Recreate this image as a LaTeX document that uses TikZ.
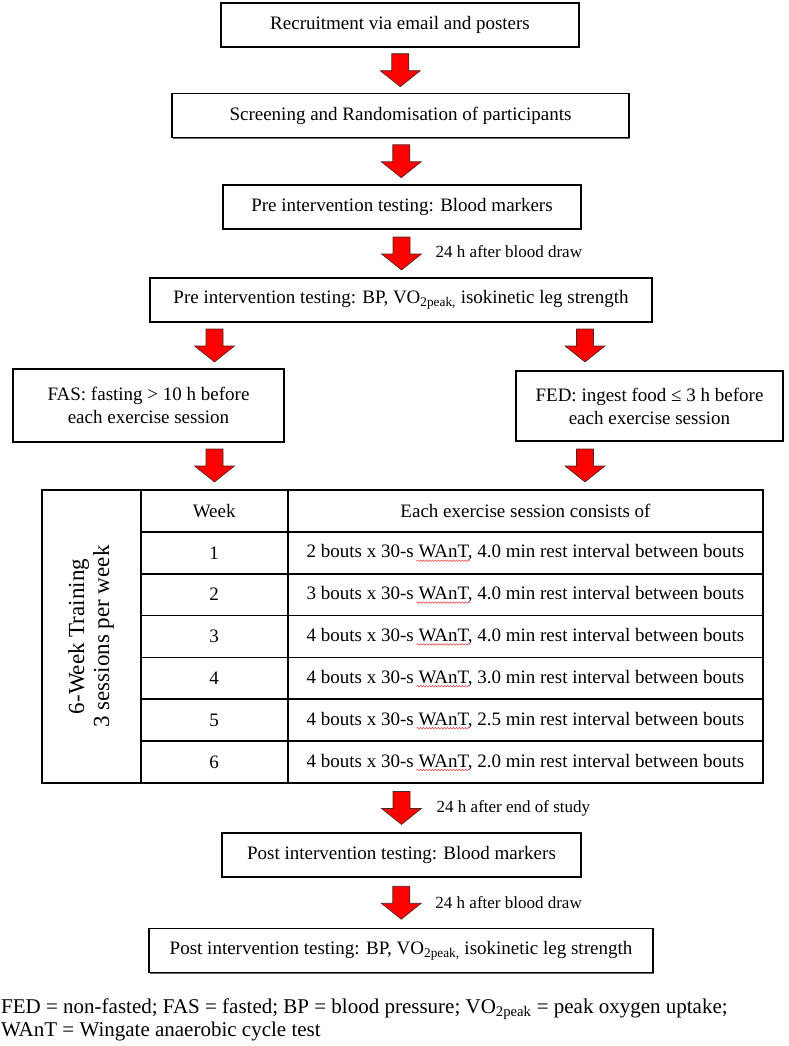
\documentclass[tikz,border=0pt]{standalone}
\usepackage{fontspec}
\setmainfont{Liberation Serif}
\usepackage{tikz}
\usetikzlibrary{calc,shadows,decorations.pathmorphing}
\definecolor{arrowred}{RGB}{255,0,0}
\definecolor{rim}{RGB}{70,40,40}
\definecolor{spellred}{RGB}{230,60,60}
\tikzset{
  stage/.style={draw=black,line width=1.8pt,fill=white,inner sep=0pt,
    minimum height=44pt,align=center,font=\fontsize{19}{23}\selectfont,
    drop shadow={shadow xshift=1.3pt,shadow yshift=-1.3pt,fill=black!60,opacity=1}},
  cell/.style={draw=black,line width=1.8pt,inner sep=0pt,minimum height=41.85pt,
    font=\fontsize{19}{23}\selectfont},
  gapnote/.style={font=\fontsize{17}{20}\selectfont,anchor=west,inner sep=0pt},
  squiggle/.style={spellred,line width=0.5pt,decorate,
    decoration={snake,amplitude=0.8pt,segment length=3pt}},
  redarrow/.pic={\draw[fill=arrowred,draw=rim,line width=0.6pt,line join=miter]
    (-8.5,-16.5) -- (8.5,-16.5) -- (8.5,0.5) -- (20,0.5) -- (0,16.5)
    -- (-20,0.5) -- (-8.5,0.5) -- cycle;}
}

\begin{document}
\begin{tikzpicture}[x=1pt,y=-1pt]
  \useasboundingbox (0,0) rectangle (789,1046);
  % top chain
  \node[stage,minimum width=358pt] (recruit) at (400,25) {Recruitment via email and posters};
  \node[stage,minimum width=457pt] (screen) at (400.5,115.5) {Screening and Randomisation of participants};
  \node[stage,minimum width=358pt] (preblood) at (402,207) {Pre intervention testing: Blood markers};
  \node[stage,minimum width=502pt] (pretest) at (401,300)
    {Pre intervention testing: BP, VO\textsubscript{2peak,} isokinetic leg strength};
  \pic at ($(recruit.south)!0.5!(screen.north)$) {redarrow};
  \pic at ($(screen.south)!0.5!(preblood.north)$) {redarrow};
  \coordinate (gapA) at ($(preblood.south)!0.5!(pretest.north)$);
  \pic at (gapA) {redarrow};
  \node[gapnote] (noteA) at ($(gapA)+(34,-1.5)$) {24 h after blood draw};

  % two arms
  \node[stage,minimum width=271pt,minimum height=73pt] (fas) at (148.5,405.5)
    {FAS: fasting > 10 h before\\each exercise session};
  \node[stage,minimum width=267pt,minimum height=70pt] (fed) at (649.5,406)
    {FED: ingest food ≤ 3 h before\\each exercise session};
  \pic at (214.5,345.5) {redarrow};
  \pic at (585,345.5) {redarrow};
  \pic at (214.5,465.5) {redarrow};
  \pic at (585,465.5) {redarrow};

  % training table
  \node[cell,rotate=90,minimum width=293pt,minimum height=99pt,align=center,
    font=\fontsize{23}{25}\selectfont] (span) at (91.2,636.5)
    {6-Week Training\\3 sessions per week};
  \node[cell,minimum width=147pt] (wkhead) at (214.2,510.9) {Week};
  \node[cell,minimum width=475.6pt] (deschead) at (525.5,510.9) {Each exercise session consists of};
  \foreach \wk/\bouts/\rest in {1/2/4.0,2/3/4.0,3/4/4.0,4/4/3.0,5/4/2.5,6/4/2.0} {
    \node[cell,minimum width=147pt] (wk\wk) at (214.2,{490+41.85*(\wk+0.5)}) {\wk};
    \node[cell,minimum width=475.6pt] (desc\wk) at (525.5,{490+41.85*(\wk+0.5)})
      {\bouts\ bouts x 30-s WAnT, \rest\ min rest interval between bouts};
    \draw[squiggle] ($(desc\wk.center)+(-109,8)$) -- ($(desc\wk.center)+(-56,8)$);
  }

  % post testing
  \node[stage,minimum width=359pt] (postblood) at (401.5,855) {Post intervention testing: Blood markers};
  \node[stage,minimum width=504pt] (posttest) at (401,950.5)
    {Post intervention testing: BP, VO\textsubscript{2peak,} isokinetic leg strength};
  \coordinate (gapB) at ($(desc6.south -| postblood.north)!0.5!(postblood.north)$);
  \pic at (gapB) {redarrow};
  \node[gapnote] (noteB) at ($(gapB)+(35,0)$) {24 h after end of study};
  \coordinate (gapC) at ($(postblood.south)!0.5!(posttest.north)$);
  \pic at (gapC) {redarrow};
  \node[gapnote] (noteC) at ($(gapC)+(34,0)$) {24 h after blood draw};

  \node[anchor=west,align=left,inner sep=0pt,font=\fontsize{21}{23}\selectfont] (legend) at (1,1019.5)
    {FED = non-fasted; FAS = fasted; BP = blood pressure; VO\textsubscript{2peak} = peak oxygen uptake;\\
     WAnT = Wingate anaerobic cycle test};
\end{tikzpicture}
\end{document}
